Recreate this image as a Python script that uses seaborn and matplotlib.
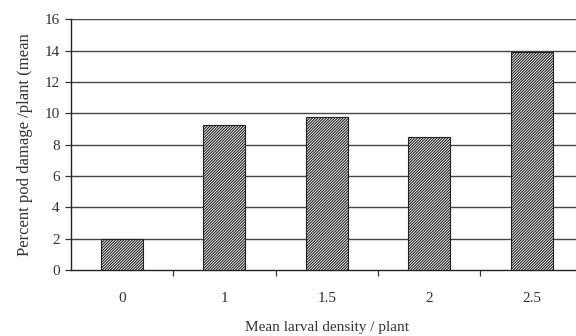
import matplotlib
matplotlib.use("Agg")
import matplotlib.pyplot as plt
import seaborn as sns
import pandas as pd
import numpy as np

# Mean larval density per plant and the resulting pod damage
density = ["0", "1", "1.5", "2", "2.5"]
damage = [2.0, 9.25, 9.75, 8.5, 13.9]
y_ticks = [0, 2, 4, 6, 8, 10, 12, 14, 16]

df = pd.DataFrame({"density": density, "damage": damage})

sns.set_theme(style="white")
plt.rcParams["font.family"] = ["Liberation Serif", "DejaVu Serif"]
plt.rcParams["hatch.color"] = "#555555"
plt.rcParams["hatch.linewidth"] = 0.8

fig = plt.figure(figsize=(5.76, 3.36), dpi=100)
ax = fig.add_axes([0.1227, 0.1964, 0.889, 0.746])

sns.barplot(data=df, x="density", y="damage", order=density, ax=ax,
            width=0.41, color="white", edgecolor="#222222", linewidth=0.8,
            hatch="////////////", zorder=3)

ax.set_ylim(0, 16)
ax.set_xlim(-0.5, len(density) - 0.5)
ax.set_yticks(y_ticks)
ax.set_yticklabels([str(t) for t in y_ticks])

# horizontal rules at every major tick
for t in y_ticks[1:]:
    ax.axhline(t, color="#444444", lw=1.0, zorder=1)

# category separators as small ticks below the axis
ax.set_xticks(np.arange(0.5, len(density) - 0.5, 1.0), minor=True)
ax.tick_params(axis="x", which="minor", bottom=True, length=4, width=0.9,
               color="#333333", direction="out")
ax.tick_params(axis="x", which="major", bottom=False, length=0, pad=16,
               labelsize=11, labelcolor="#333333")
ax.tick_params(axis="y", which="major", left=True, length=4, width=0.9,
               color="#333333", direction="out", pad=4,
               labelsize=11, labelcolor="#333333")

for side in ["top", "right"]:
    ax.spines[side].set_visible(False)
for side in ["left", "bottom"]:
    ax.spines[side].set_color("#222222")
    ax.spines[side].set_linewidth(1.0)

ax.set_xlabel("Mean larval density / plant", fontsize=11, color="#333333",
              labelpad=11)
ax.set_ylabel("Percent pod damage /plant (mean", fontsize=12, color="#333333",
              labelpad=8)

fig.savefig("out.png", dpi=100)
